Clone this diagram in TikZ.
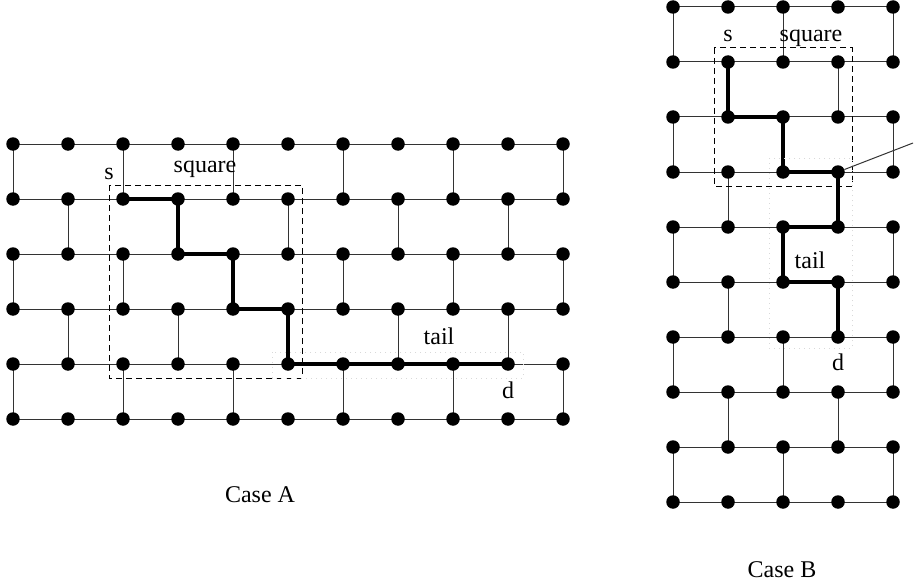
\documentclass[tikz,border=0pt]{standalone}
\usepackage{fontspec}
\setmainfont{Liberation Serif}
\usetikzlibrary{backgrounds}
\begin{document}
\begin{tikzpicture}[x=1pt,y=-1pt,
  dot/.style={circle,fill=black,inner sep=0pt,minimum size=13.5pt},
  edge/.style={line width=1pt,draw=black!80},
  route/.style={line width=3.6pt,line join=miter,draw=black},
  window/.style={line width=1pt,draw=black,dash pattern=on 6pt off 4pt},
  tailbox/.style={line width=1pt,draw=black!15,dash pattern=on 1.2pt off 3.8pt},
  lbl/.style={font=\fontsize{24}{28}\selectfont,inner sep=0pt,anchor=base}]
\useasboundingbox (0,0) rectangle (922,586);

% ---- Case A: 11 x 6 brick lattice ----
\foreach \c in {0,...,10}{
  \foreach \r in {0,...,5}{
    \node[dot] (A-\c-\r) at ({13+55*\c},{144+55*\r}) {};
  }
}

% ---- Case B: 5 x 10 brick lattice ----
\foreach \c in {0,...,4}{
  \foreach \r in {0,...,9}{
    \node[dot] (B-\c-\r) at ({673+55*\c},{7+55*\r}) {};
  }
}

\begin{scope}[on background layer]
  \fill[white] (0,0) rectangle (922,586);
  % lattice edges of case A
  \foreach \c [evaluate=\c as \n using int(\c+1)] in {0,...,9}{
    \foreach \r in {0,...,5}{
      \draw[edge] (A-\c-\r.center) -- (A-\n-\r.center);
    }
  }
  \foreach \c in {0,...,10}{
    \foreach \r [evaluate=\r as \m using int(\r+1)] in {0,...,4}{
      \pgfmathtruncatemacro\parsum{\c+\r}
      \ifodd\parsum\else\draw[edge] (A-\c-\r.center) -- (A-\c-\m.center);\fi
    }
  }
  % lattice edges of case B
  \foreach \c [evaluate=\c as \n using int(\c+1)] in {0,...,3}{
    \foreach \r in {0,...,9}{
      \draw[edge] (B-\c-\r.center) -- (B-\n-\r.center);
    }
  }
  \foreach \c in {0,...,4}{
    \foreach \r [evaluate=\r as \m using int(\r+1)] in {0,...,8}{
      \pgfmathtruncatemacro\parsum{\c+\r}
      \ifodd\parsum\else\draw[edge] (B-\c-\r.center) -- (B-\c-\m.center);\fi
    }
  }

  % routes from s to d
  \draw[route] (A-2-1.center) -- (A-3-1.center) -- (A-3-2.center) -- (A-4-2.center)
    -- (A-4-3.center) -- (A-5-3.center) -- (A-5-4.center) -- (A-9-4.center);
  \draw[route] (B-1-1.center) -- (B-1-2.center) -- (B-2-2.center) -- (B-2-3.center)
    -- (B-3-3.center) -- (B-3-4.center) -- (B-2-4.center) -- (B-2-5.center)
    -- (B-3-5.center) -- (B-3-6.center);

  % square windows and tail regions
  \draw[window] (109,185) rectangle (302,378);
  \draw[tailbox] (272,352) rectangle (523,378);
  \draw[window] (714,48) rectangle (852,186);
  \draw[tailbox] (769,158) rectangle (852,348);

  % callout from the corner of the square
  \coordinate (callout) at (913,143);
  \draw[edge] (B-3-3) -- (callout);
\end{scope}

% labels
\node[lbl] (sA) at (109,179) {s};
\node[lbl] (sqA) at (205,172) {square};
\node[lbl] (tailA) at (439,344) {tail};
\node[lbl] (dA) at (508,398) {d};
\node[lbl] (caseA) at (260,502) {Case A};

\node[lbl] (sB) at (728,42) {s};
\node[lbl] (sqB) at (811,42) {square};
\node[lbl] (tailB) at (810,268) {tail};
\node[lbl] (dB) at (838,370) {d};
\node[lbl] (caseB) at (782,577) {Case B};
\end{tikzpicture}
\end{document}
